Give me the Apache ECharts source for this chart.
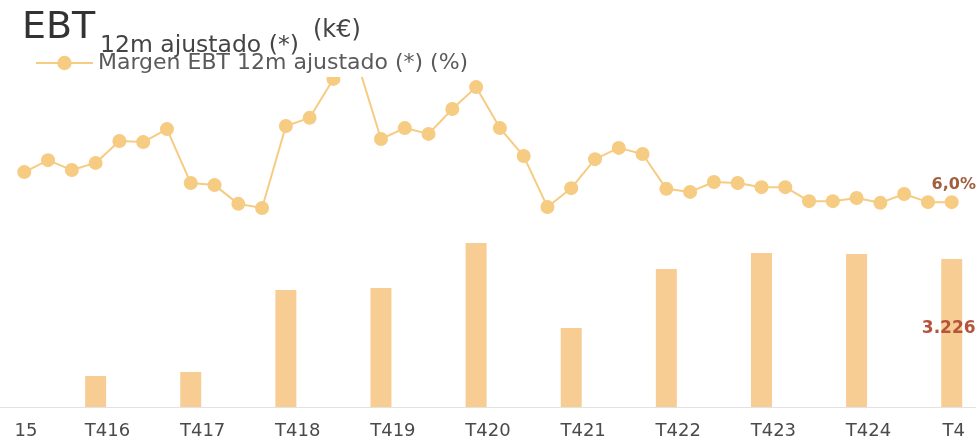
<!DOCTYPE html>
<html>
<head>
<meta charset="utf-8">
<script src="https://cdn.jsdelivr.net/npm/echarts@6/dist/echarts.min.js"></script>
<style>
  html, body { margin: 0; padding: 0; background: #fff; }
  #chart { width: 978px; height: 448px; }
</style>
</head>
<body>
<div id="chart"></div>
<script>
// Quarterly timeline, Q4 2015 to Q1 2026 (one slot per quarter)
const quarters = [
  'T415',
  'T116', 'T216', 'T316', 'T416',
  'T117', 'T217', 'T317', 'T417',
  'T118', 'T218', 'T318', 'T418',
  'T119', 'T219', 'T319', 'T419',
  'T120', 'T220', 'T320', 'T420',
  'T121', 'T221', 'T321', 'T421',
  'T122', 'T222', 'T322', 'T422',
  'T123', 'T223', 'T323', 'T423',
  'T124', 'T224', 'T324', 'T424',
  'T125', 'T225', 'T325', 'T425',
  'T126'
];

// Year-end tick labels (the outer two are cut at the chart edges)
const yearLabels = ['15', 'T416', 'T417', 'T418', 'T419', 'T420', 'T421', 'T422', 'T423', 'T424', 'T4'];

// EBT 12m ajustado (k€), one value per year end (T415 ... T425)
const ebtValues = [null, 676, 763, 2550, 2594, 3575, 1722, 3008, 3357, 3335, 3226];

// Margen EBT 12m ajustado (%), one value per quarter (T415 ... T425)
const marginValues = [
  null,
  6.88, 7.23, 6.94, 7.15,
  7.79, 7.76, 8.14, 6.56,
  6.50, 5.95, 5.83, 8.23,
  8.47, 9.61, 10.11, 7.85,
  8.17, 8.00, 8.73, 9.37,
  8.17, 7.35, 5.86, 6.41,
  7.26, 7.59, 7.41, 6.39,
  6.30, 6.59, 6.56, 6.44,
  6.44, 6.03, 6.03, 6.12,
  5.98, 6.24, 6.00, 6.0
];

const FONT = 'DejaVu Sans';
const BAR_COLOR = '#F8CD93';
const LINE_COLOR = '#F6CB82';
const lastIdx = marginValues.length - 1;

// Bars sit on the Q4 slot of each year
const barData = quarters.map(function (q, i) {
  if (i % 4 !== 0) return null;
  const v = ebtValues[i / 4];
  if (v == null) return null;
  if (i / 4 === ebtValues.length - 1) {
    return {
      value: v,
      label: {
        show: true,
        position: 'inside',
        offset: [-3, -4],
        formatter: function (p) { return p.value.toLocaleString('de-DE'); },
        color: '#B5533C',
        fontFamily: FONT,
        fontSize: 17,
        fontWeight: 'bold'
      }
    };
  }
  return v;
});

const lineData = quarters.map(function (q, i) {
  const v = i < marginValues.length ? marginValues[i] : null;
  if (i === lastIdx) {
    return {
      value: v,
      label: {
        show: true,
        position: 'top',
        distance: 2,
        offset: [2, 0],
        formatter: function (p) { return p.value.toFixed(1).replace('.', ',') + '%'; },
        color: '#A0603F',
        fontFamily: FONT,
        fontSize: 16,
        fontWeight: 'bold'
      }
    };
  }
  return v;
});

// Band axis carrying the year labels (one band per quarter)
const labelSlots = quarters.slice(0, quarters.length - 1).map(function (q, k) {
  return k % 4 === 0 ? yearLabels[k / 4] : '';
});
const firstSlot = 0;
const lastSlot = labelSlots.length - 1;

const chart = echarts.init(document.getElementById('chart'), null, { renderer: 'canvas' });

chart.setOption({
  animation: false,
  backgroundColor: '#ffffff',
  textStyle: { fontFamily: FONT },
  title: [
    {
      text: 'EBT',
      left: 22, top: 9, padding: 0,
      textStyle: { fontFamily: FONT, fontSize: 38, fontWeight: 'normal', color: '#333333' }
    },
    {
      text: '12m ajustado (*)',
      left: 100, top: 34, padding: 0,
      textStyle: { fontFamily: FONT, fontSize: 23.5, fontWeight: 'normal', color: '#444444' }
    },
    {
      text: '(k€)',
      left: 313, top: 19, padding: 0,
      textStyle: { fontFamily: FONT, fontSize: 24, fontWeight: 'normal', color: '#444444' }
    }
  ],
  legend: {
    data: ['Margen EBT 12m ajustado (*) (%)'],
    left: 35,
    top: 52,
    padding: [0, 5, 3, 0],
    backgroundColor: '#ffffff',
    itemWidth: 57,
    itemHeight: 18,
    textStyle: { fontFamily: FONT, fontSize: 22, color: '#5a5a5a' }
  },
  grid: { left: 0.5, right: 2.5, top: 40, bottom: 41, containLabel: false, outerBoundsMode: 'none' },
  xAxis: [
    {
      type: 'category',
      data: quarters,
      boundaryGap: false,
      axisLine: { show: true, lineStyle: { color: '#e2e2e2', width: 1 } },
      axisTick: { show: false },
      axisLabel: { show: false },
      splitLine: { show: false }
    },
    {
      type: 'category',
      data: labelSlots,
      boundaryGap: true,
      position: 'bottom',
      axisLine: { show: false },
      axisTick: { show: false },
      splitLine: { show: false },
      axisLabel: {
        interval: 0,
        margin: 15,
        color: '#4a4a4a',
        fontFamily: FONT,
        fontSize: 18,
        formatter: function (val, idx) {
          if (idx === firstSlot) return '{first|' + val + '}';
          if (idx === lastSlot) return '{last|' + val + '}';
          return val;
        },
        rich: {
          first: { fontFamily: FONT, fontSize: 18, color: '#4a4a4a', padding: [0, 0, 0, 27] },
          last: { fontFamily: FONT, fontSize: 18, color: '#4a4a4a', padding: [0, 20, 0, 0] }
        }
      }
    }
  ],
  yAxis: [
    { type: 'value', min: 0, max: 8000, show: false, splitLine: { show: false } },
    { type: 'value', min: 0, max: 10.75, show: false, splitLine: { show: false } }
  ],
  series: [
    {
      name: 'EBT 12m ajustado (*) (k€)',
      type: 'bar',
      xAxisIndex: 0,
      yAxisIndex: 0,
      data: barData,
      barWidth: 21,
      itemStyle: { color: BAR_COLOR },
      z: 2
    },
    {
      name: 'Margen EBT 12m ajustado (*) (%)',
      type: 'line',
      xAxisIndex: 0,
      yAxisIndex: 1,
      data: lineData,
      connectNulls: false,
      symbol: 'circle',
      symbolSize: 14,
      showAllSymbol: true,
      lineStyle: { color: LINE_COLOR, width: 2 },
      itemStyle: { color: LINE_COLOR },
      z: 3
    }
  ]
});
</script>
</body>
</html>
